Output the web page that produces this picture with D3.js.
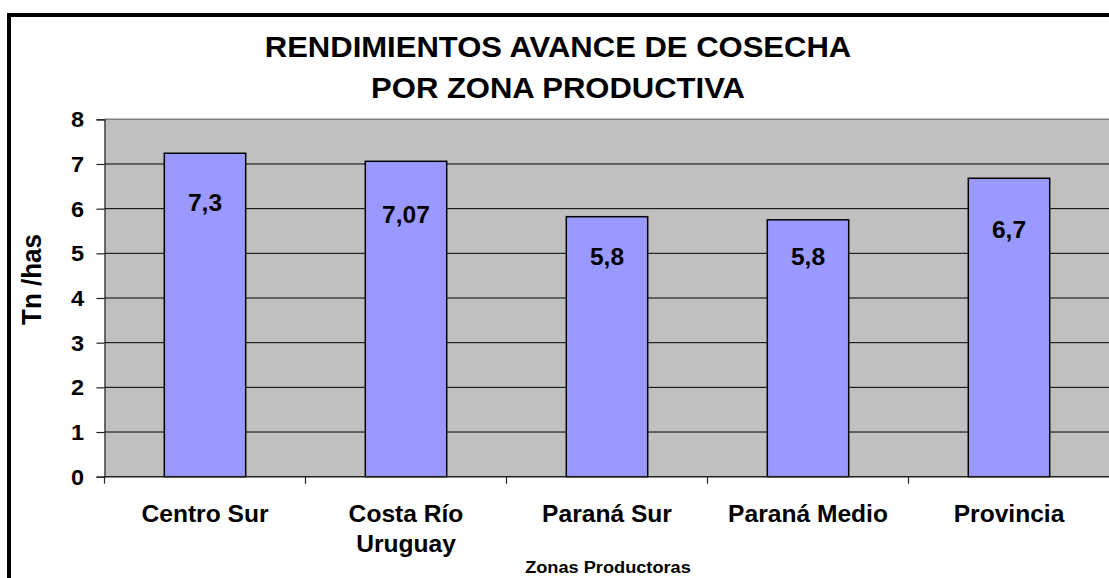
<!DOCTYPE html>
<html>
<head>
<meta charset="utf-8">
<script src="https://cdn.jsdelivr.net/npm/d3@7"></script>
<style>
  body { margin: 0; background: #fff; }
  svg text { font-family: "Liberation Sans", Arial, sans-serif; font-weight: bold; fill: #000; }
</style>
</head>
<body>
<svg id="chart" width="1109" height="578"></svg>
<script>
// Datos.
const zonas = ["Centro Sur", "Costa Río\nUruguay", "Paraná Sur", "Paraná Medio", "Provincia"];
const rendimientos = [7.24, 7.06, 5.82, 5.75, 6.68];
const etiquetas = ["7,3", "7,07", "5,8", "5,8", "6,7"];
// Altura (en Tn/has) donde quedó cada etiqueta dentro de la barra.
const alturaEtiqueta = [6.13, 5.86, 4.92, 4.92, 5.52];
const ticksY = [0, 1, 2, 3, 4, 5, 6, 7, 8];
const titulo = ["RENDIMIENTOS AVANCE DE COSECHA", "POR ZONA PRODUCTIVA"];

// La imagen original está algo estirada en horizontal, así que el texto también.
const estiramiento = 1.07;

const svg = d3.select("#chart");

const plot = { left: 104.5, right: 1109.5, top: 119.3, bottom: 476.7 };

const x = d3.scaleBand()
    .domain(zonas)
    .range([plot.left, plot.right])
    .padding(0);

const y = d3.scaleLinear()
    .domain([0, 8])
    .range([plot.bottom, plot.top]);

function texto(g, px, py, str, size, anchor, rot) {
    return g.append("text")
        .attr("transform", "translate(" + px + "," + py + ") scale(" + estiramiento + ",1)" + (rot ? " rotate(" + rot + ")" : ""))
        .attr("text-anchor", anchor || "middle")
        .style("font-size", size + "px")
        .text(str);
}

// Marco exterior del gráfico.
svg.append("rect")
    .attr("x", 9).attr("y", 15)
    .attr("width", 1130).attr("height", 600)
    .attr("fill", "none")
    .attr("stroke", "#000")
    .attr("stroke-width", 4);

// Fondo del área de trazado.
svg.append("rect")
    .attr("x", plot.left).attr("y", plot.top)
    .attr("width", plot.right - plot.left)
    .attr("height", plot.bottom - plot.top)
    .attr("fill", "#c0c0c0");

// Líneas de la grilla.
svg.append("g")
    .selectAll("line")
    .data(ticksY.filter(d => d > 0 && d < 8))
    .enter()
    .append("line")
    .attr("x1", plot.left).attr("x2", plot.right)
    .attr("y1", d => y(d)).attr("y2", d => y(d))
    .attr("stroke", "#000")
    .attr("stroke-width", 1);

svg.append("line")
    .attr("x1", plot.left).attr("x2", plot.right)
    .attr("y1", y(8)).attr("y2", y(8))
    .attr("stroke", "#808080")
    .attr("stroke-width", 1.5);

// Eje Y.
const ejeY = svg.append("g")
    .attr("transform", "translate(" + plot.left + ",0)")
    .call(d3.axisLeft(y).tickValues(ticksY).tickSize(8).tickFormat(""));
ejeY.selectAll("path, line").attr("stroke", "#222").attr("stroke-width", 1.2);

ticksY.forEach(t => texto(svg, 84, y(t) + 8, String(t), 22, "end"));

// Barras.
const anchoBarra = x.bandwidth() * 0.405;
svg.append("g")
    .selectAll("rect")
    .data(rendimientos)
    .enter()
    .append("rect")
    .attr("x", (d, i) => x(zonas[i]) + (x.bandwidth() - anchoBarra) / 2)
    .attr("y", d => y(d))
    .attr("width", anchoBarra)
    .attr("height", d => y(0) - y(d))
    .attr("fill", "#9999ff")
    .attr("stroke", "#000")
    .attr("stroke-width", 1.5);

// Etiquetas de valor.
etiquetas.forEach((t, i) => {
    texto(svg, x(zonas[i]) + x.bandwidth() / 2, y(alturaEtiqueta[i]) + 8.2, t, 23);
});

// Eje X con las marcas entre categorías.
const bordes = zonas.map(z => x(z));
svg.append("line")
    .attr("x1", plot.left).attr("x2", plot.right)
    .attr("y1", y(0)).attr("y2", y(0))
    .attr("stroke", "#222").attr("stroke-width", 1.5);
svg.append("g")
    .selectAll("line")
    .data(bordes)
    .enter()
    .append("line")
    .attr("x1", d => d).attr("x2", d => d)
    .attr("y1", y(0)).attr("y2", y(0) + 7)
    .attr("stroke", "#222").attr("stroke-width", 1.2);

zonas.forEach(z => {
    z.split("\n").forEach((linea, k) => {
        texto(svg, x(z) + x.bandwidth() / 2, 522 + k * 29.5, linea, 23);
    });
});

// Títulos.
texto(svg, 558, 57, titulo[0], 29);
texto(svg, 558, 98, titulo[1], 29);
texto(svg, 608, 573, "Zonas Productoras", 17);
texto(svg, 41, 279.5, "Tn /has", 26, "middle", -90);
</script>
</body>
</html>
